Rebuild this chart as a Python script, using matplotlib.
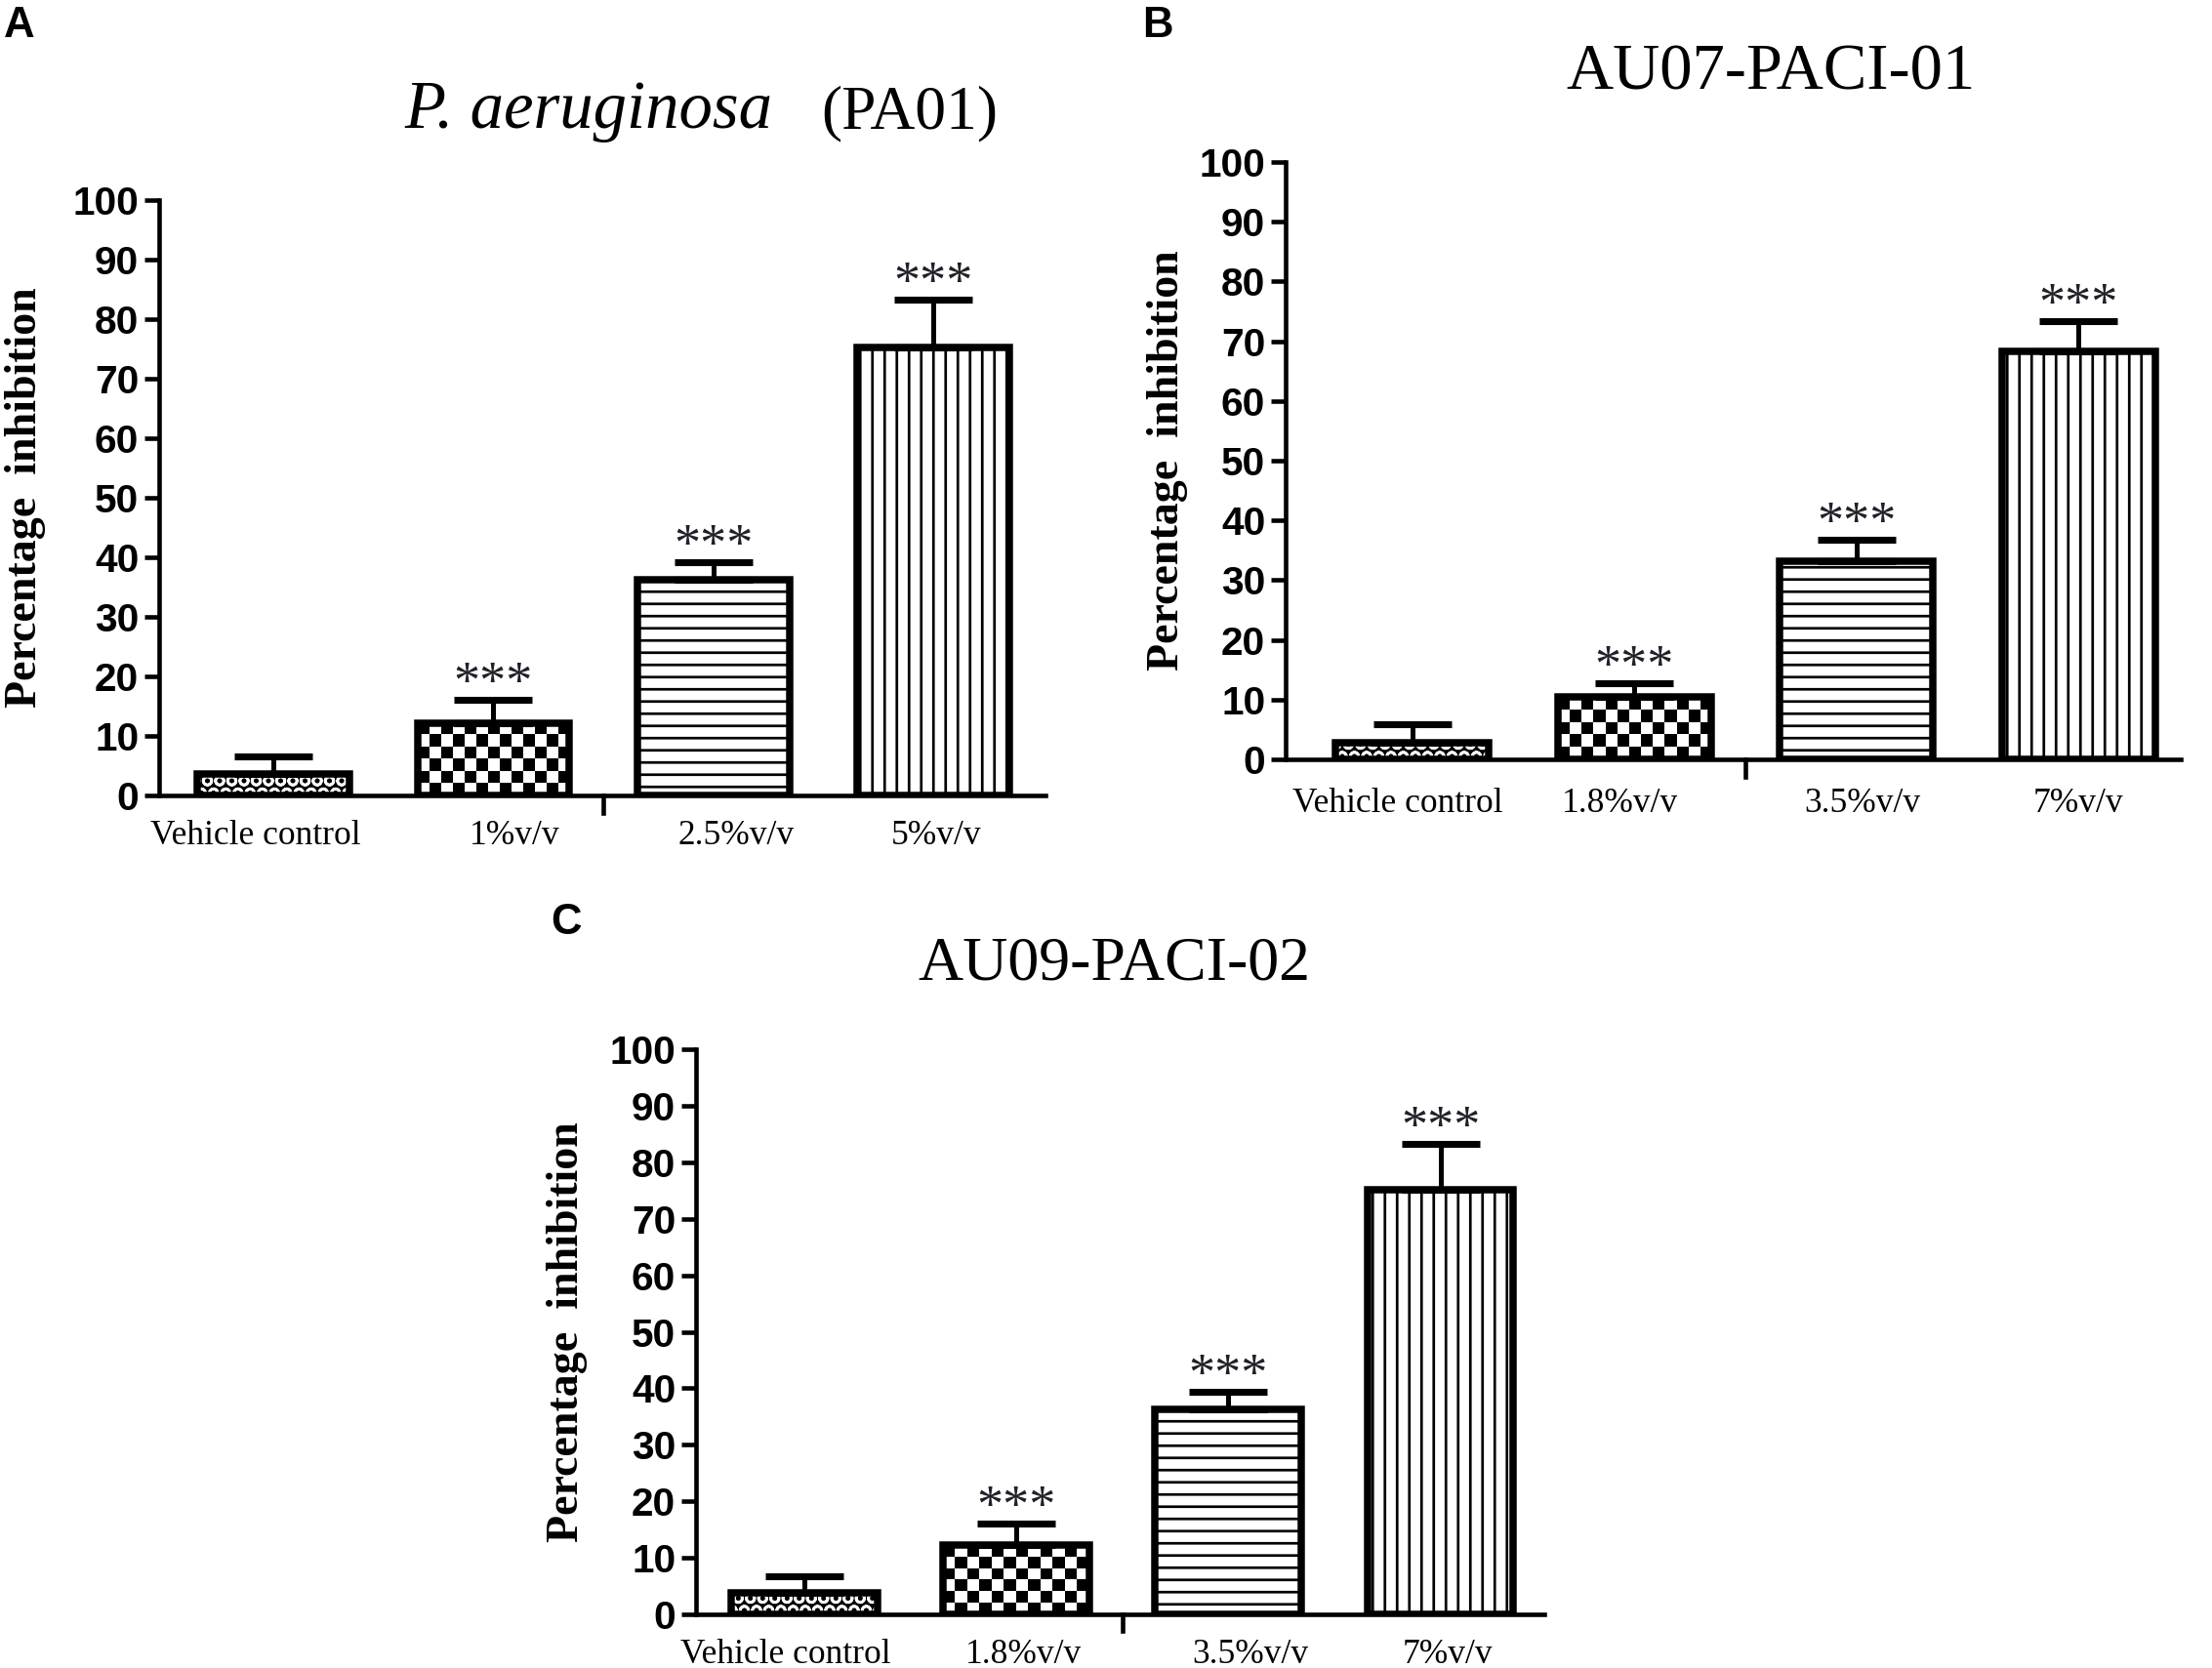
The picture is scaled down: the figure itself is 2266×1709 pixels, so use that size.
"""Percentage inhibition bar panels (A, B, C) with hatched bars and SEM-style error bars."""
import matplotlib
matplotlib.use("Agg")
import matplotlib.pyplot as plt
import matplotlib.transforms as mtransforms
import numpy as np

# ---- data ----
labels_a = ["Vehicle control", "1%v/v", "2.5%v/v", "5%v/v"]
mean_a = [3.6, 12.2, 36.2, 75.2]
err_a = [2.9, 3.9, 3.0, 8.0]

labels_b = ["Vehicle control", "1.8%v/v", "3.5%v/v", "7%v/v"]
mean_b = [2.7, 10.4, 33.2, 68.3]
err_b = [3.2, 2.3, 3.5, 5.0]

labels_c = ["Vehicle control", "1.8%v/v", "3.5%v/v", "7%v/v"]
mean_c = [3.75, 12.2, 36.3, 75.1]
err_c = [3.05, 3.9, 3.0, 8.2]

stars = ["", "***", "***", "***"]
yticks = list(range(0, 101, 10))

W, H, DPI = 2266, 1709, 150
SERIF = ["Liberation Serif", "DejaVu Serif"]
SANS = ["Liberation Sans", "DejaVu Sans"]

plt.rcParams["hatch.linewidth"] = 1.3
plt.rcParams["axes.linewidth"] = 2.2

fig = plt.figure(figsize=(W / DPI, H / DPI), dpi=DPI)


def checker_fill(ax, bar, cell_px=12.0):
    x0, y0 = bar.get_x(), bar.get_y()
    w, h = bar.get_width(), bar.get_height()
    p0 = ax.transData.transform((x0, y0))
    p1 = ax.transData.transform((x0 + w, y0 + h))
    ncol = max(1, int(round((p1[0] - p0[0]) / cell_px)))
    nrow = max(1, int(round((p1[1] - p0[1]) / cell_px)))
    grid = np.indices((nrow, ncol)).sum(axis=0) % 2
    im = ax.imshow(grid, cmap="gray", extent=(x0, x0 + w, y0, y0 + h),
                   aspect="auto", interpolation="nearest", zorder=1.5)
    im.set_clip_path(bar)


def panel(rect, xlim, labels, means, errs, ylabel_x, label_pad, label_shift):
    ax = fig.add_axes(rect)
    x = np.arange(len(means))
    ax.set_xlim(*xlim)
    ax.set_ylim(0, 100)

    # fills
    ax.bar(x[0], means[0], width=0.69, color="black", edgecolor="white",
           hatch="OO", linewidth=0, zorder=1)
    b1 = ax.bar(x[1], means[1], width=0.69, color="white", linewidth=0, zorder=1)
    ax.bar(x[2], means[2], width=0.69, color="white", edgecolor="black",
           hatch="--", linewidth=0, zorder=1)
    ax.bar(x[3], means[3], width=0.69, color="white", edgecolor="black",
           hatch="||", linewidth=0, zorder=1)
    checker_fill(ax, b1[0])
    ax.set_xlim(*xlim)
    ax.set_ylim(0, 100)

    ax.errorbar(x, means, yerr=[np.zeros(len(errs)), errs], fmt="none",
                ecolor="black", elinewidth=2.4, capsize=19, capthick=3.4, zorder=2.5)
    ax.bar(x, means, width=0.69, fill=False, edgecolor="black", linewidth=3.6,
           zorder=3)

    for xi, m, e, s in zip(x, means, errs, stars):
        if s:
            ax.annotate(s, (xi, m + e), xytext=(0, 1), textcoords="offset points",
                        ha="center", va="baseline", fontsize=26, family=SERIF,
                        color="#202028", clip_on=False)

    for side in ("top", "right"):
        ax.spines[side].set_visible(False)
    ax.set_yticks(yticks)
    ax.tick_params(axis="y", length=7, width=2.2, direction="out", pad=3)
    for t in ax.get_yticklabels():
        t.set_fontfamily(SANS)
        t.set_fontweight("bold")
        t.set_fontsize(19.5)
    ax.set_xticks(x)
    ax.set_xticklabels(labels, fontsize=17, family=SERIF)
    ax.tick_params(axis="x", length=0, pad=label_pad)
    for t, dx in zip(ax.get_xticklabels(), label_shift):
        t.set_transform(t.get_transform() + mtransforms.ScaledTranslation(
            dx / 72, 0, fig.dpi_scale_trans))

    # group divider tick below the x axis
    ax.plot([1.5, 1.5], [0, -0.03], color="black", lw=2.2,
            transform=ax.get_xaxis_transform(), clip_on=False)

    ax.set_ylabel("Percentage  inhibition", fontsize=22, fontweight="bold",
                  family=SERIF)
    ax.yaxis.set_label_coords(ylabel_x, 0.5)
    return ax


panel([163 / W, 1 - 815 / H, 908 / W, 610 / H], (-0.52, 3.51),
      labels_a, mean_a, err_a, -0.128, 12, [-9, 10.4, 11, 1.4])
panel([1317 / W, 1 - 778 / H, 917 / W, 612 / H], (-0.57, 3.46),
      labels_b, mean_b, err_b, -0.109, 14, [-7, -7, 2.8, 0])
panel([713 / W, 1 - 1654 / H, 869 / W, 579 / H], (-0.51, 3.49),
      labels_c, mean_c, err_c, -0.128, 12, [-9, 3.5, 11, 3.5])

# titles
fig.text(414 / W, 1 - 131 / H, "P. aeruginosa", fontsize=33, style="italic",
         family=SERIF, ha="left", va="baseline")
fig.text(841 / W, 1 - 131 / H, "(PA01)", fontsize=30.5, family=SERIF,
         ha="left", va="baseline")
fig.text(1814 / W, 1 - 91 / H, "AU07-PACI-01", fontsize=32, family=SERIF,
         ha="center", va="baseline")
fig.text(1141 / W, 1 - 1003 / H, "AU09-PACI-02", fontsize=30.7, family=SERIF,
         ha="center", va="baseline")

# panel letters
for letter, px, py in (("A", 20, 26), ("B", 1186, 26), ("C", 580, 946)):
    fig.text(px / W, 1 - py / H, letter, fontsize=21, fontweight="bold",
             family=SANS, ha="center", va="center")

fig.savefig("out.png", dpi=DPI)
plt.close(fig)
